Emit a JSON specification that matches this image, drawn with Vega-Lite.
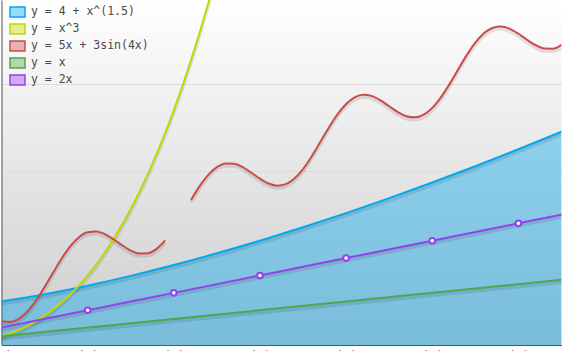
{
  "$schema": "https://vega.github.io/schema/vega-lite/v6.json",
  "width": 560,
  "height": 345,
  "autosize": {"type": "none"},
  "padding": {"left": 1.5, "top": 0, "right": 3.5, "bottom": 6},
  "background": "#ffffff",
  "config": {
    "view": {
      "stroke": null,
      "fill": {"gradient": "linear", "x1": 0, "y1": 0, "x2": 0, "y2": 1, "stops": [{"offset": 0, "color": "#ffffff"}, {"offset": 1, "color": "#cccccc"}]}
    },
    "legend": {
      "title": null,
      "orient": "none",
      "legendX": 7.5,
      "legendY": 3.5,
      "padding": 0,
      "symbolType": "M-1,-0.68L1,-0.68L1,0.68L-1,0.68Z",
      "symbolSize": 225,
      "symbolStrokeWidth": 1.5,
      "labelFont": "DejaVu Sans Mono",
      "labelFontSize": 11.5,
      "labelColor": "#4a4a4a",
      "labelOffset": 5,
      "rowPadding": 0
    }
  },
  "datasets": {
    "curves": [
      {"series": "y = 4 + x^(1.5)", "seg": "a", "x": 1.0, "y": 5.0},
      {"series": "y = 4 + x^(1.5)", "seg": "a", "x": 1.5, "y": 5.837},
      {"series": "y = 4 + x^(1.5)", "seg": "a", "x": 2.0, "y": 6.828},
      {"series": "y = 4 + x^(1.5)", "seg": "a", "x": 2.5, "y": 7.953},
      {"series": "y = 4 + x^(1.5)", "seg": "a", "x": 3.0, "y": 9.196},
      {"series": "y = 4 + x^(1.5)", "seg": "a", "x": 3.5, "y": 10.548},
      {"series": "y = 4 + x^(1.5)", "seg": "a", "x": 4.0, "y": 12.0},
      {"series": "y = 4 + x^(1.5)", "seg": "a", "x": 4.5, "y": 13.546},
      {"series": "y = 4 + x^(1.5)", "seg": "a", "x": 5.0, "y": 15.18},
      {"series": "y = 4 + x^(1.5)", "seg": "a", "x": 5.5, "y": 16.899},
      {"series": "y = 4 + x^(1.5)", "seg": "a", "x": 6.0, "y": 18.697},
      {"series": "y = 4 + x^(1.5)", "seg": "a", "x": 6.5, "y": 20.572},
      {"series": "y = 4 + x^(1.5)", "seg": "a", "x": 7.0, "y": 22.52},
      {"series": "y = 4 + x^(1.5)", "seg": "a", "x": 7.5, "y": 24.54},

      {"series": "y = x^3", "seg": "a", "x": 1.0, "y": 1.0},
      {"series": "y = x^3", "seg": "a", "x": 1.1, "y": 1.331},
      {"series": "y = x^3", "seg": "a", "x": 1.2, "y": 1.728},
      {"series": "y = x^3", "seg": "a", "x": 1.3, "y": 2.197},
      {"series": "y = x^3", "seg": "a", "x": 1.4, "y": 2.744},
      {"series": "y = x^3", "seg": "a", "x": 1.5, "y": 3.375},
      {"series": "y = x^3", "seg": "a", "x": 1.6, "y": 4.096},
      {"series": "y = x^3", "seg": "a", "x": 1.7, "y": 4.913},
      {"series": "y = x^3", "seg": "a", "x": 1.8, "y": 5.832},
      {"series": "y = x^3", "seg": "a", "x": 1.9, "y": 6.859},
      {"series": "y = x^3", "seg": "a", "x": 2.0, "y": 8.0},
      {"series": "y = x^3", "seg": "a", "x": 2.1, "y": 9.261},
      {"series": "y = x^3", "seg": "a", "x": 2.2, "y": 10.648},
      {"series": "y = x^3", "seg": "a", "x": 2.3, "y": 12.167},
      {"series": "y = x^3", "seg": "a", "x": 2.4, "y": 13.824},
      {"series": "y = x^3", "seg": "a", "x": 2.5, "y": 15.625},
      {"series": "y = x^3", "seg": "a", "x": 2.6, "y": 17.576},
      {"series": "y = x^3", "seg": "a", "x": 2.7, "y": 19.683},
      {"series": "y = x^3", "seg": "a", "x": 2.8, "y": 21.952},
      {"series": "y = x^3", "seg": "a", "x": 2.9, "y": 24.389},
      {"series": "y = x^3", "seg": "a", "x": 3.0, "y": 27.0},
      {"series": "y = x^3", "seg": "a", "x": 3.1, "y": 29.791},
      {"series": "y = x^3", "seg": "a", "x": 3.2, "y": 32.768},
      {"series": "y = x^3", "seg": "a", "x": 3.3, "y": 35.937},
      {"series": "y = x^3", "seg": "a", "x": 3.4, "y": 39.304},
      {"series": "y = x^3", "seg": "a", "x": 3.5, "y": 42.875},

      {"series": "y = 5x + 3sin(4x)", "seg": "a", "x": 1.0, "y": 2.73},
      {"series": "y = 5x + 3sin(4x)", "seg": "a", "x": 1.1, "y": 2.645},
      {"series": "y = 5x + 3sin(4x)", "seg": "a", "x": 1.2, "y": 3.011},
      {"series": "y = 5x + 3sin(4x)", "seg": "a", "x": 1.3, "y": 3.849},
      {"series": "y = 5x + 3sin(4x)", "seg": "a", "x": 1.4, "y": 5.106},
      {"series": "y = 5x + 3sin(4x)", "seg": "a", "x": 1.5, "y": 6.662},
      {"series": "y = 5x + 3sin(4x)", "seg": "a", "x": 1.6, "y": 8.35},
      {"series": "y = 5x + 3sin(4x)", "seg": "a", "x": 1.7, "y": 9.982},
      {"series": "y = 5x + 3sin(4x)", "seg": "a", "x": 1.8, "y": 11.381},
      {"series": "y = 5x + 3sin(4x)", "seg": "a", "x": 1.9, "y": 12.404},
      {"series": "y = 5x + 3sin(4x)", "seg": "a", "x": 2.0, "y": 12.968},
      {"series": "y = 5x + 3sin(4x)", "seg": "a", "x": 2.1, "y": 13.064},
      {"series": "y = 5x + 3sin(4x)", "seg": "a", "x": 2.2, "y": 12.755},
      {"series": "y = 5x + 3sin(4x)", "seg": "a", "x": 2.3, "y": 12.169},
      {"series": "y = 5x + 3sin(4x)", "seg": "a", "x": 2.4, "y": 11.477},
      {"series": "y = 5x + 3sin(4x)", "seg": "a", "x": 2.5, "y": 10.868},
      {"series": "y = 5x + 3sin(4x)", "seg": "a", "x": 2.6, "y": 10.517},
      {"series": "y = 5x + 3sin(4x)", "seg": "a", "x": 2.7, "y": 10.557},
      {"series": "y = 5x + 3sin(4x)", "seg": "a", "x": 2.8, "y": 11.062},
      {"series": "y = 5x + 3sin(4x)", "seg": "a", "x": 2.9, "y": 12.032},
      {"series": "y = 5x + 3sin(4x)", "seg": "b", "x": 3.2, "y": 16.695},
      {"series": "y = 5x + 3sin(4x)", "seg": "b", "x": 3.3, "y": 18.276},
      {"series": "y = 5x + 3sin(4x)", "seg": "b", "x": 3.4, "y": 19.578},
      {"series": "y = 5x + 3sin(4x)", "seg": "b", "x": 3.5, "y": 20.472},
      {"series": "y = 5x + 3sin(4x)", "seg": "b", "x": 3.6, "y": 20.898},
      {"series": "y = 5x + 3sin(4x)", "seg": "b", "x": 3.7, "y": 20.866},
      {"series": "y = 5x + 3sin(4x)", "seg": "b", "x": 3.8, "y": 20.459},
      {"series": "y = 5x + 3sin(4x)", "seg": "b", "x": 3.9, "y": 19.823},
      {"series": "y = 5x + 3sin(4x)", "seg": "b", "x": 4.0, "y": 19.136},
      {"series": "y = 5x + 3sin(4x)", "seg": "b", "x": 4.1, "y": 18.585},
      {"series": "y = 5x + 3sin(4x)", "seg": "b", "x": 4.2, "y": 18.337},
      {"series": "y = 5x + 3sin(4x)", "seg": "b", "x": 4.3, "y": 18.509},
      {"series": "y = 5x + 3sin(4x)", "seg": "b", "x": 4.4, "y": 19.154},
      {"series": "y = 5x + 3sin(4x)", "seg": "b", "x": 4.5, "y": 20.247},
      {"series": "y = 5x + 3sin(4x)", "seg": "b", "x": 4.6, "y": 21.695},
      {"series": "y = 5x + 3sin(4x)", "seg": "b", "x": 4.7, "y": 23.351},
      {"series": "y = 5x + 3sin(4x)", "seg": "b", "x": 4.8, "y": 25.03},
      {"series": "y = 5x + 3sin(4x)", "seg": "b", "x": 4.9, "y": 26.546},
      {"series": "y = 5x + 3sin(4x)", "seg": "b", "x": 5.0, "y": 27.739},
      {"series": "y = 5x + 3sin(4x)", "seg": "b", "x": 5.1, "y": 28.499},
      {"series": "y = 5x + 3sin(4x)", "seg": "b", "x": 5.2, "y": 28.786},
      {"series": "y = 5x + 3sin(4x)", "seg": "b", "x": 5.3, "y": 28.635},
      {"series": "y = 5x + 3sin(4x)", "seg": "b", "x": 5.4, "y": 28.145},
      {"series": "y = 5x + 3sin(4x)", "seg": "b", "x": 5.5, "y": 27.473},
      {"series": "y = 5x + 3sin(4x)", "seg": "b", "x": 5.6, "y": 26.81},
      {"series": "y = 5x + 3sin(4x)", "seg": "b", "x": 5.7, "y": 26.327},
      {"series": "y = 5x + 3sin(4x)", "seg": "b", "x": 5.8, "y": 26.196},
      {"series": "y = 5x + 3sin(4x)", "seg": "b", "x": 5.9, "y": 26.501},
      {"series": "y = 5x + 3sin(4x)", "seg": "b", "x": 6.0, "y": 27.283},
      {"series": "y = 5x + 3sin(4x)", "seg": "b", "x": 6.1, "y": 28.497},
      {"series": "y = 5x + 3sin(4x)", "seg": "b", "x": 6.2, "y": 30.02},
      {"series": "y = 5x + 3sin(4x)", "seg": "b", "x": 6.3, "y": 31.702},
      {"series": "y = 5x + 3sin(4x)", "seg": "b", "x": 6.4, "y": 33.352},
      {"series": "y = 5x + 3sin(4x)", "seg": "b", "x": 6.5, "y": 34.788},
      {"series": "y = 5x + 3sin(4x)", "seg": "b", "x": 6.6, "y": 35.863},
      {"series": "y = 5x + 3sin(4x)", "seg": "b", "x": 6.7, "y": 36.486},
      {"series": "y = 5x + 3sin(4x)", "seg": "b", "x": 6.8, "y": 36.639},
      {"series": "y = 5x + 3sin(4x)", "seg": "b", "x": 6.9, "y": 36.374},
      {"series": "y = 5x + 3sin(4x)", "seg": "b", "x": 7.0, "y": 35.813},
      {"series": "y = 5x + 3sin(4x)", "seg": "b", "x": 7.1, "y": 35.124},
      {"series": "y = 5x + 3sin(4x)", "seg": "b", "x": 7.2, "y": 34.495},
      {"series": "y = 5x + 3sin(4x)", "seg": "b", "x": 7.3, "y": 34.105},
      {"series": "y = 5x + 3sin(4x)", "seg": "b", "x": 7.4, "y": 34.088},
      {"series": "y = 5x + 3sin(4x)", "seg": "b", "x": 7.5, "y": 34.536},

      {"series": "y = x", "seg": "a", "x": 1.0, "y": 1.0},
      {"series": "y = x", "seg": "a", "x": 7.5, "y": 7.5},

      {"series": "y = 2x", "seg": "a", "x": 1, "y": 2},
      {"series": "y = 2x", "seg": "a", "x": 2, "y": 4},
      {"series": "y = 2x", "seg": "a", "x": 3, "y": 6},
      {"series": "y = 2x", "seg": "a", "x": 4, "y": 8},
      {"series": "y = 2x", "seg": "a", "x": 5, "y": 10},
      {"series": "y = 2x", "seg": "a", "x": 6, "y": 12},
      {"series": "y = 2x", "seg": "a", "x": 7, "y": 14},
      {"series": "y = 2x", "seg": "a", "x": 8, "y": 16}
    ]
  },
  "data": {"name": "curves"},
  "encoding": {
    "x": {
      "field": "x", "type": "quantitative",
      "scale": {"domain": [1, 7.5], "nice": false, "zero": false},
      "axis": {
        "title": null, "values": [1, 2, 3, 4, 5, 6, 7],
        "labelExpr": "'(' + datum.value + ')'",
        "grid": false, "ticks": false, "domain": true, "domainColor": "#545454", "domainWidth": 1,
        "labelFont": "DejaVu Sans Mono", "labelFontSize": 12, "labelColor": "#545454",
        "labelPadding": 5, "labelFlush": false, "labelOverlap": false
      }
    },
    "y": {
      "field": "y", "type": "quantitative",
      "scale": {"domain": [0, 39.7], "nice": false, "zero": false},
      "axis": {
        "title": null, "values": [10, 20, 30], "labels": false, "ticks": false,
        "grid": true, "gridColor": "#dddddd", "gridWidth": 1,
        "domain": true, "domainColor": "#545454", "domainWidth": 1
      }
    }
  },
  "layer": [
    {
      "transform": [{"filter": "datum.series == 'y = 4 + x^(1.5)'"}],
      "mark": {"type": "area", "color": "#00A8F0", "opacity": 0.4, "interpolate": "monotone", "clip": true}
    },
    {
      "mark": {"type": "line", "color": "#000000", "opacity": 0.1, "strokeWidth": 3.5, "yOffset": 2.5, "interpolate": "monotone", "clip": true},
      "encoding": {"detail": {"field": "series"}, "order": {"field": "x"}, "strokeDash": {"field": "seg", "legend": null, "scale": {"range": [[1, 0], [1, 0]]}}}
    },
    {
      "mark": {"type": "line", "strokeWidth": 2, "interpolate": "monotone", "clip": true},
      "encoding": {
        "color": {
          "field": "series", "type": "nominal",
          "scale": {
            "domain": ["y = 4 + x^(1.5)", "y = x^3", "y = 5x + 3sin(4x)", "y = x", "y = 2x"],
            "range": ["#00A8F0", "#C0D800", "#CB4B4B", "#4DA74D", "#9440ED"]
          },
          "legend": {
            "encode": {
              "symbols": {
                "update": {
                  "fill": {"scale": "color", "field": "value"},
                  "fillOpacity": {"value": 0.4},
                  "stroke": {"scale": "color", "field": "value"},
                  "strokeWidth": {"value": 1.5},
                  "opacity": {"value": 1}
                }
              }
            }
          }
        },
        "detail": {"field": "seg"},
        "order": {"field": "x"}
      }
    },
    {
      "transform": [{"filter": "datum.series == 'y = 2x' && datum.x >= 2 && datum.x <= 7"}],
      "mark": {"type": "point", "filled": true, "fill": "#ffffff", "stroke": "#9440ED", "strokeWidth": 2, "size": 32, "opacity": 1, "clip": true}
    },
    {
      "data": {"values": [{}]},
      "mark": {"type": "rule", "color": "#545454", "strokeWidth": 1},
      "encoding": {"x": {"datum": 7.5}, "y": null}
    }
  ]
}
